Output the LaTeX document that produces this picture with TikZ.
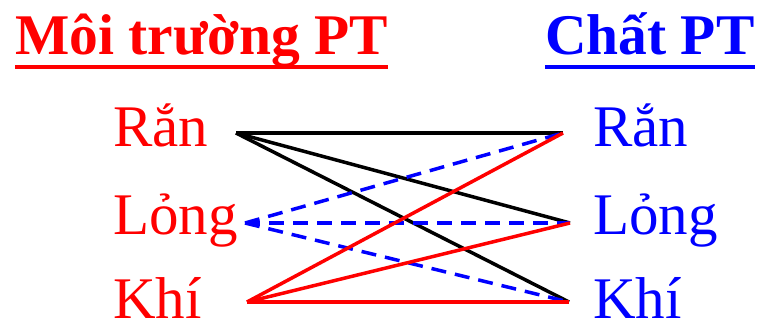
\documentclass[tikz,border=0pt]{standalone}
\usepackage{fontspec}
\setmainfont{Liberation Serif}
\usetikzlibrary{positioning}

\begin{document}
\begin{tikzpicture}[x=1pt, y=-1pt,
    state/.style={anchor=base west, inner sep=0pt, font=\fontsize{59}{70}\selectfont},
    title/.style={anchor=base west, inner sep=0pt, font=\fontsize{57.5}{68}\selectfont\bfseries},
    solidlink/.style={line width=3.5pt},
    dashlink/.style={line width=3.5pt, blue, dash pattern=on 15pt off 9pt},
]
\useasboundingbox (0,0) rectangle (760,323);
% headings
\node[title, text=red] (envT) at (15,55) {Môi trường PT};
\node[title, text=blue] (subT) at (545,55) {Chất PT};
\draw[red, line width=4pt] ([yshift=-12pt]envT.base west) -- ([yshift=-12pt]envT.base east);
\draw[blue, line width=4pt] ([yshift=-12pt]subT.base west) -- ([yshift=-12pt]subT.base east);
% left column
\node[state, text=red] (envR) at (113,147) {Rắn};
\node[state, text=red] (envL) at (113,234) {Lỏng};
\node[state, text=red] (envK) at (113,318) {Khí};
% right column
\node[state, text=blue] (subR) at (593,147) {Rắn};
\node[state, text=blue] (subL) at (593,234) {Lỏng};
\node[state, text=blue] (subK) at (593,318) {Khí};
% link ends
\coordinate (aR) at (236,133);
\coordinate (aL) at (245,223);
\coordinate (aK) at (247,302);
\coordinate (bR) at (563,133);
\coordinate (bL) at (570,223);
\coordinate (bK) at (569,302);
% links
\draw[solidlink] (aR) -- (bR);
\draw[solidlink] (aR) -- (bL);
\draw[solidlink] (aR) -- (bK);
\draw[dashlink] (aL) -- (bR);
\draw[dashlink] (aL) -- (bL);
\draw[dashlink] (aL) -- (bK);
\draw[solidlink, red] (aK) -- (bR);
\draw[solidlink, red] (aK) -- (bL);
\draw[solidlink, red] (aK) -- (bK);
\end{tikzpicture}
\end{document}
